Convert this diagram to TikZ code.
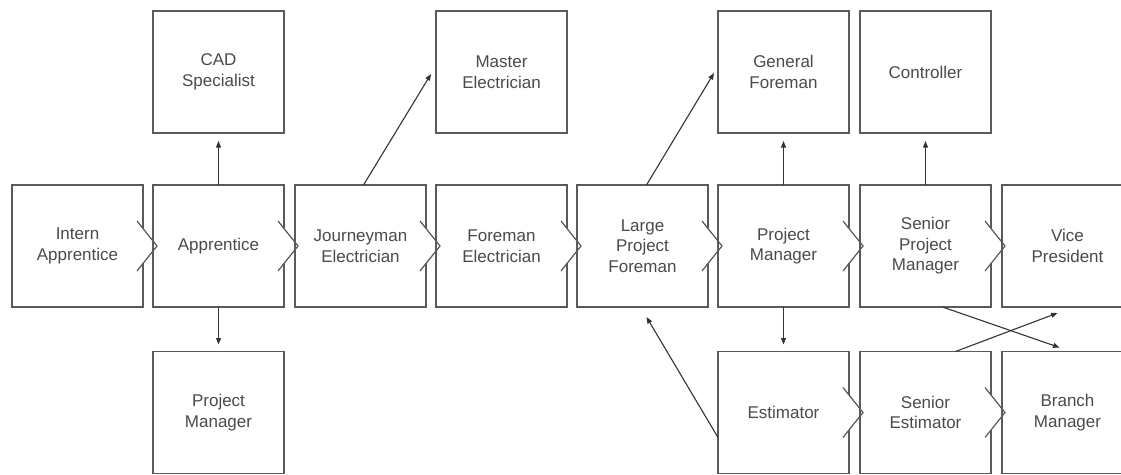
\documentclass[tikz,border=0pt]{standalone}
\usepackage{fontspec}
\setmainfont{Liberation Sans}
\usetikzlibrary{calc,arrows.meta}
\definecolor{boxc}{HTML}{5A5A5A}
\definecolor{txtc}{HTML}{4A4A4A}
\definecolor{arrc}{HTML}{333333}
\tikzset{
  box/.style={draw=boxc, line width=1.2pt, minimum width=131pt, minimum height=122pt,
    inner sep=0pt, outer sep=0pt, align=center, text=txtc,
    font=\fontsize{17}{20.5}\selectfont},
  cbox/.style={box, draw=none},
  edge/.style={draw=boxc, line width=1.2pt, line join=miter},
  arr/.style={draw=arrc, line width=1.1pt, -{Triangle[length=6.5pt,width=5pt]}},
}
\newcommand\chevdraw[1]{%
  \draw[edge] ($(#1.east)+(0,-18)$) -- (#1.north east) -- (#1.north west)
     -- (#1.south west) -- (#1.south east) -- ($(#1.east)+(0,17)$);
  \draw[edge] ($(#1.east)+(-6,-25)$) -- ($(#1.east)+(14,0)$) -- ($(#1.east)+(-6,25)$);
}
\begin{document}
\begin{tikzpicture}[x=1pt,y=-1pt]
\useasboundingbox (0,0) rectangle (1121,474);
\clip (0,0) rectangle (1121,474);
% middle row
\node[cbox] (intern) at (77.5,246) {Intern\\Apprentice};
\node[cbox] (appr)   at (218.5,246) {Apprentice};
\node[cbox] (jour)   at (360.5,246) {Journeyman\\Electrician};
\node[cbox] (fore)   at (501.5,246) {Foreman\\Electrician};
\node[cbox] (lpf)    at (642.5,246) {Large\\Project\\Foreman};
\node[cbox] (pm)     at (783.5,246) {Project\\Manager};
\node[cbox] (spm)    at (925.5,246) {Senior\\Project\\Manager};
\node[box]  (vp)     at (1067.5,246) {Vice\\President};
% top row
\node[box] (cad)    at (218.5,72) {CAD\\Specialist};
\node[box] (master) at (501.5,72) {Master\\Electrician};
\node[box] (gf)     at (783.5,72) {General\\Foreman};
\node[box] (ctrl)   at (925.5,72) {Controller};
% bottom row
\node[box]  (pm2) at (218.5,412.5) {Project\\Manager};
\node[cbox] (est) at (783.5,412.5) {Estimator};
\node[cbox] (se)  at (925.5,412.5) {Senior\\Estimator};
\node[box]  (bm)  at (1067.5,412.5) {Branch\\Manager};
% chevron boxes
\chevdraw{intern}
\chevdraw{appr}
\chevdraw{jour}
\chevdraw{fore}
\chevdraw{lpf}
\chevdraw{pm}
\chevdraw{spm}
\chevdraw{est}
\chevdraw{se}
% arrows
\draw[arr, shorten >=8pt] (appr.north) -- (cad.south);
\draw[arr, shorten >=7pt] (appr.south) -- (pm2.north);
\draw[arr] ($(jour.north)+(3,0)$) -- ($(master.west)+(-5,2)$);
\draw[arr] ($(lpf.north)+(4,0)$) -- ($(gf.west)+(-4,1)$);
\draw[arr, shorten >=8pt] (pm.north) -- (gf.south);
\draw[arr, shorten >=7pt] (pm.south) -- (est.north);
\draw[arr, shorten >=8pt] (spm.north) -- (ctrl.south);
\draw[arr] ($(est.west)+(0,25)$) -- ($(lpf.south)+(4,10)$);
\draw[arr] ($(spm.south)+(17,0)$) -- ($(bm.north)+(-8,-4)$);
\draw[arr] ($(se.north)+(30,0)$) -- ($(vp.south)+(-10,6)$);
\end{tikzpicture}
\end{document}
